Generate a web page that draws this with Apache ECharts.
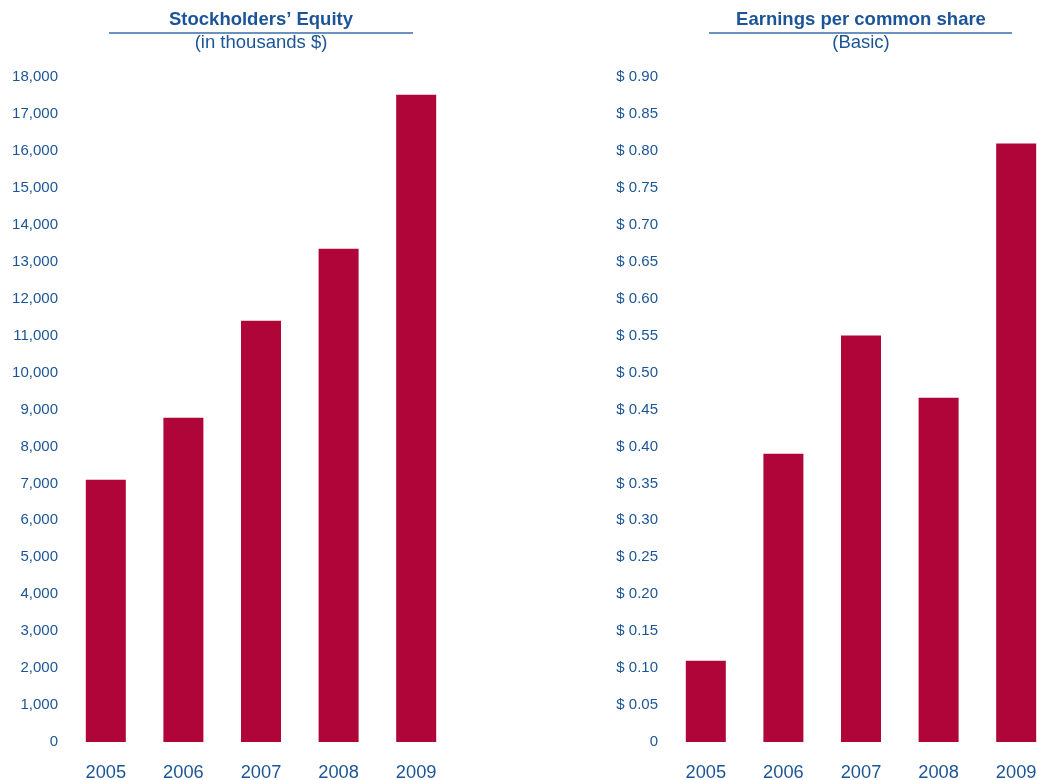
<!DOCTYPE html>
<html>
<head>
<meta charset="utf-8">
<script src="https://cdn.jsdelivr.net/npm/echarts@6/dist/echarts.min.js"></script>
<style>html,body{margin:0;padding:0;background:#fff}#c{width:1037px;height:780px}</style>
</head>
<body>
<div id="c"></div>
<script>
const years = ['2005', '2006', '2007', '2008', '2009'];
const equityValues = [7100, 8780, 11400, 13350, 17520];
const epsValues = [0.11, 0.39, 0.55, 0.466, 0.81];
const equityTitle = 'Stockholders\u2019 Equity';
const equitySubtitle = '(in thousands $)';
const epsTitle = 'Earnings per common share';
const epsSubtitle = '(Basic)';

const BLUE = '#1c5597';
const RED = '#b00538';
const FONT = '"Liberation Sans", Arial, Helvetica, sans-serif';

const chart = echarts.init(document.getElementById('c'), null, {renderer: 'canvas'});

function xAxis(gi) {
  return {
    type: 'category', gridIndex: gi, data: years,
    axisLine: {show: false}, axisTick: {show: false}, splitLine: {show: false},
    axisLabel: {color: BLUE, fontSize: 18.3, fontFamily: FONT, margin: 22}
  };
}
function yAxis(gi, max, interval, fmt) {
  return {
    type: 'value', gridIndex: gi, min: 0, max: max, interval: interval,
    axisLine: {show: false}, axisTick: {show: false}, splitLine: {show: false},
    axisLabel: {color: BLUE, fontSize: 15, fontFamily: FONT, margin: 9, formatter: fmt}
  };
}
function titleText(x, y, text, bold) {
  return {type: 'text', x: x, y: y, style: {text: text, fill: BLUE, align: 'center', verticalAlign: 'middle',
    font: (bold ? 'bold ' : '') + '18.5px ' + FONT}};
}

chart.setOption({
  animation: false,
  backgroundColor: '#fff',
  graphic: [
    titleText(261, 19.5, equityTitle, true),
    titleText(261, 42.5, equitySubtitle, false),
    titleText(861, 19.5, epsTitle, true),
    titleText(861, 42.5, epsSubtitle, false),
    {type: 'line', shape: {x1: 109, y1: 33, x2: 413, y2: 33}, style: {stroke: '#3a6ea8', lineWidth: 1.5}},
    {type: 'line', shape: {x1: 709, y1: 33, x2: 1012, y2: 33}, style: {stroke: '#3a6ea8', lineWidth: 1.5}}
  ],
  grid: [
    {left: 67, top: 77, width: 388, height: 665, containLabel: false, outerBoundsMode: 'none'},
    {left: 667, top: 77, width: 388, height: 665, containLabel: false, outerBoundsMode: 'none'}
  ],
  xAxis: [xAxis(0), xAxis(1)],
  yAxis: [
    yAxis(0, 18000, 1000, v => v.toLocaleString('en-US')),
    yAxis(1, 0.9, 0.05, v => v === 0 ? '0' : '$ ' + v.toFixed(2))
  ],
  series: [
    {type: 'bar', xAxisIndex: 0, yAxisIndex: 0, data: equityValues, barWidth: 40, itemStyle: {color: RED}},
    {type: 'bar', xAxisIndex: 1, yAxisIndex: 1, data: epsValues, barWidth: 40, itemStyle: {color: RED}}
  ]
});
</script>
</body>
</html>
